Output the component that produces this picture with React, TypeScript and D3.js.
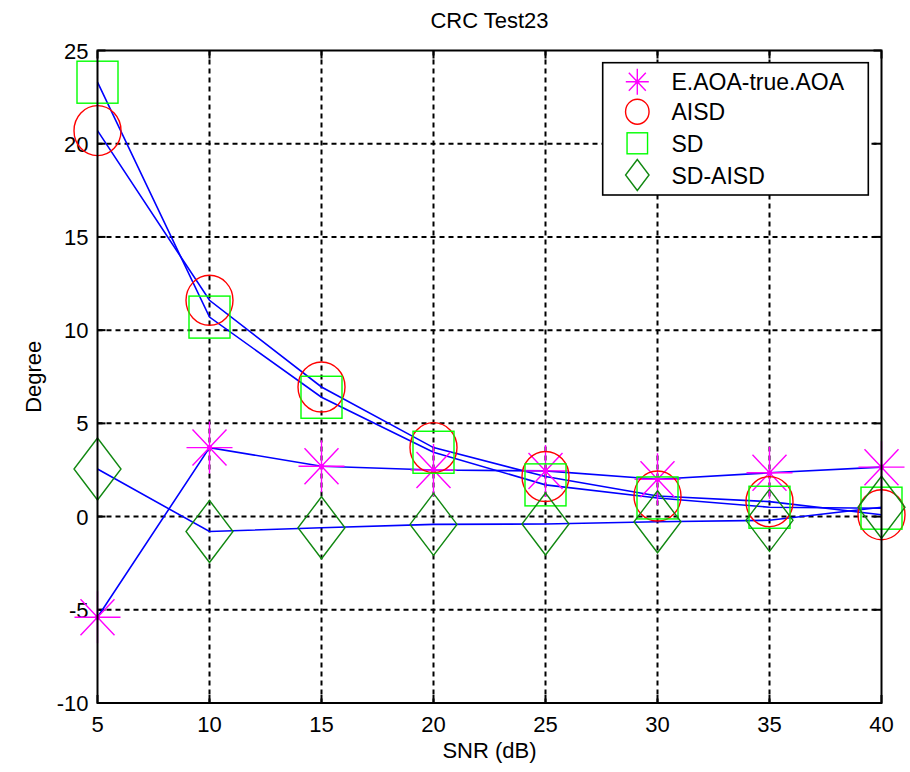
import React from "react";
import * as d3 from "d3";

const snr = [5, 10, 15, 20, 25, 30, 35, 40];
const eAoa = [-5.4, 3.7, 2.7, 2.5, 2.45, 2.0, 2.35, 2.65];
const aisd = [20.7, 11.6, 6.95, 3.7, 2.15, 1.1, 0.8, 0.1];
const sd = [23.3, 10.7, 6.4, 3.45, 1.7, 1.0, 0.5, 0.45];
const sdAisd = [2.55, -0.8, -0.6, -0.42, -0.4, -0.28, -0.2, 0.5];
const xTicks = [5, 10, 15, 20, 25, 30, 35, 40];
const yTicks = [-10, -5, 0, 5, 10, 15, 20, 25];
const seriesNames = ["E.AOA-true.AOA", "AISD", "SD", "SD-AISD"];

const W = 910, H = 772;
const L = 97.5, R = 881.5, T = 50.5, B = 703;
const FONT = "'Liberation Sans', Arial, Helvetica, sans-serif";

type Kind = "star" | "circle" | "square" | "diamond";

function Marker({ kind, x, y, s = 1 }: { kind: Kind; x: number; y: number; s?: number }) {
  if (kind === "star") {
    const d = `M${x - 23 * s},${y}L${x + 23 * s},${y}M${x},${y - 26 * s}L${x},${y + 26 * s}` +
      `M${x - 17 * s},${y - 18 * s}L${x + 17 * s},${y + 18 * s}M${x - 17 * s},${y + 18 * s}L${x + 17 * s},${y - 18 * s}`;
    return (
      <g>
        <path d={d} stroke="#ff00ff" strokeWidth={1.4} fill="none" />
        <circle cx={x} cy={y} r={2.6 * Math.max(s, 0.8)} fill="#ff00ff" />
      </g>
    );
  }
  if (kind === "circle") {
    return <ellipse cx={x} cy={y} rx={23.5 * s} ry={25 * s} stroke="#ff0000" strokeWidth={1.4} fill="none" />;
  }
  if (kind === "square") {
    return <rect x={x - 20.5 * s} y={y - 21 * s} width={41 * s} height={42 * s} stroke="#00ff00" strokeWidth={1.4} fill="none" />;
  }
  const d = `M${x},${y - 31 * s}L${x + 23.5 * s},${y}L${x},${y + 31 * s}L${x - 23.5 * s},${y}Z`;
  return <path d={d} stroke="#118811" strokeWidth={1.4} fill="none" />;
}

export default function App() {
  const x = d3.scaleLinear().domain([5, 40]).range([L, R]);
  const y = d3.scaleLinear().domain([-10, 25]).range([B, T]);
  const series: { vals: number[]; kind: Kind }[] = [
    { vals: eAoa, kind: "star" },
    { vals: aisd, kind: "circle" },
    { vals: sd, kind: "square" },
    { vals: sdAisd, kind: "diamond" },
  ];
  const line = d3.line<number>().x((_, i) => x(snr[i])).y((v) => y(v));
  const tickLen = 8;

  const legX = 602.7, legY = 62.7, legW = 265.6, legH = 132.3;
  const rowY = [81.7, 111.7, 143.3, 175];

  return (
    <svg width={W} height={H} style={{ position: "absolute", left: 0, top: 0, background: "#fff" }}>
      <rect x={0} y={0} width={W} height={H} fill="#fff" />
      {xTicks.slice(1, -1).map((t) => (
        <line key={"gx" + t} x1={x(t)} x2={x(t)} y1={T} y2={B} stroke="#000" strokeWidth={2} strokeDasharray="5,4" />
      ))}
      {yTicks.slice(1, -1).map((t) => (
        <line key={"gy" + t} x1={L} x2={R} y1={y(t)} y2={y(t)} stroke="#000" strokeWidth={2} strokeDasharray="5,4" />
      ))}
      {xTicks.map((t) => (
        <g key={"tx" + t}>
          <line x1={x(t)} x2={x(t)} y1={B} y2={B - tickLen} stroke="#000" strokeWidth={2} />
          <line x1={x(t)} x2={x(t)} y1={T} y2={T + tickLen} stroke="#000" strokeWidth={2} />
          <text x={x(t)} y={B + 29} textAnchor="middle" fontFamily={FONT} fontSize={22} fill="#000">{t}</text>
        </g>
      ))}
      {yTicks.map((t) => (
        <g key={"ty" + t}>
          <line x1={L} x2={L + tickLen} y1={y(t)} y2={y(t)} stroke="#000" strokeWidth={2} />
          <line x1={R} x2={R - tickLen} y1={y(t)} y2={y(t)} stroke="#000" strokeWidth={2} />
          <text x={L - 9} y={y(t) + 8} textAnchor="end" fontFamily={FONT} fontSize={22} fill="#000">{t}</text>
        </g>
      ))}
      {series.map((s, i) => (
        <path key={"l" + i} d={line(s.vals) || ""} stroke="#0000ff" strokeWidth={1.6} fill="none" />
      ))}
      {series.map((s, i) => (
        <g key={"m" + i}>
          {s.vals.map((v, j) => (
            <Marker key={j} kind={s.kind} x={x(snr[j])} y={y(v)} />
          ))}
        </g>
      ))}
      <rect x={L} y={T} width={R - L} height={B - T} fill="none" stroke="#000" strokeWidth={2} />
      <rect x={legX} y={legY} width={legW} height={legH} fill="#fff" stroke="#000" strokeWidth={1.6} />
      {series.map((s, i) => (
        <g key={"lg" + i}>
          <Marker kind={s.kind} x={637.3} y={rowY[i]} s={0.5} />
          <text x={671.5} y={rowY[i] + 8.5} fontFamily={FONT} fontSize={23} fill="#000">{seriesNames[i]}</text>
        </g>
      ))}
      <text x={(L + R) / 2} y={28} textAnchor="middle" fontFamily={FONT} fontSize={22} fill="#000">CRC Test23</text>
      <text x={(L + R) / 2} y={758} textAnchor="middle" fontFamily={FONT} fontSize={22} fill="#000">SNR (dB)</text>
      <text transform={`translate(41,${(T + B) / 2}) rotate(-90)`} textAnchor="middle" fontFamily={FONT} fontSize={22} fill="#000">Degree</text>
    </svg>
  );
}
